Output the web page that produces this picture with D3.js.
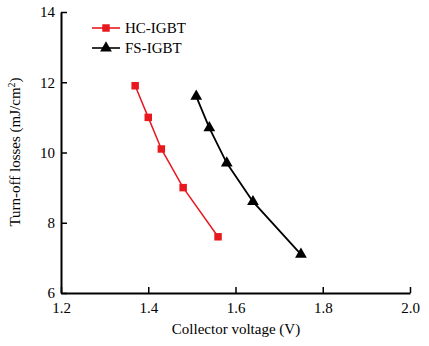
<!DOCTYPE html>
<html><head><meta charset="utf-8">
<script src="https://cdn.jsdelivr.net/npm/d3@7"></script>
<style>body{margin:0;background:#fff}svg{display:block}svg text{font-family:"Liberation Serif","Times New Roman",serif !important;fill:#000}</style>
</head><body><svg id="c" width="429" height="346" font-family="Liberation Serif"></svg>
<script>
const hcX = [1.37, 1.40, 1.43, 1.48, 1.56];
const hcY = [11.9, 11.0, 10.1, 9.0, 7.6];
const fsX = [1.51, 1.54, 1.58, 1.64, 1.75];
const fsY = [11.6, 10.7, 9.7, 8.6, 7.1];
const xTicks = [1.2, 1.4, 1.6, 1.8, 2.0];
const yTicks = [6, 8, 10, 12, 14];
const seriesNames = ["HC-IGBT", "FS-IGBT"];

const svg = d3.select("#c");
const x = d3.scaleLinear().domain([1.2, 2.0]).range([61, 410]);
const y = d3.scaleLinear().domain([6, 14]).range([293, 12]);
const FF = "Liberation Serif";

const xa = svg.append("g").attr("transform", "translate(0,293)")
  .call(d3.axisBottom(x).tickValues(xTicks).tickFormat(d3.format(".1f")).tickSizeInner(-6).tickSizeOuter(0).tickPadding(9));
const ya = svg.append("g").attr("transform", "translate(61,0)")
  .call(d3.axisLeft(y).tickValues(yTicks).tickFormat(d3.format("d")).tickSizeInner(-6).tickSizeOuter(0).tickPadding(6));
[xa, ya].forEach(a => {
  a.attr("font-family", FF).attr("font-size", 15);
  a.select(".domain").attr("stroke", "#000").attr("stroke-width", 2);
  a.selectAll(".tick line").attr("stroke", "#000").attr("stroke-width", 1.5);
});

const line = d3.line().x(d => x(d[0])).y(d => y(d[1]));
const hc = hcX.map((v, i) => [v, hcY[i]]);
const fs = fsX.map((v, i) => [v, fsY[i]]);
const red = "#e8191e";

svg.append("path").datum(hc).attr("d", line).attr("fill", "none").attr("stroke", red).attr("stroke-width", 1.5);
svg.append("path").datum(fs).attr("d", line).attr("fill", "none").attr("stroke", "#000").attr("stroke-width", 1.8);

const sq = d3.symbol().type(d3.symbolSquare).size(56);
const tri = d3.symbol().type(d3.symbolTriangle).size(60);
svg.selectAll(".hc").data(hc).enter().append("path").attr("d", sq)
  .attr("transform", d => `translate(${x(d[0])},${y(d[1])})`).attr("fill", red);
svg.selectAll(".fs").data(fs).enter().append("path").attr("d", tri)
  .attr("transform", d => `translate(${x(d[0])},${y(d[1])})`).attr("fill", "#000");

// legend
const lg = [[seriesNames[0], red, sq, 28], [seriesNames[1], "#000", tri, 48]];
lg.forEach(([name, col, sym, ly]) => {
  svg.append("line").attr("x1", 92).attr("x2", 120).attr("y1", ly).attr("y2", ly).attr("stroke", col).attr("stroke-width", 1.6);
  svg.append("path").attr("d", sym).attr("transform", `translate(106,${ly})`).attr("fill", col);
  svg.append("text").attr("x", 125).attr("y", ly + 5).attr("font-size", 15).attr("font-family", FF).text(name);
});

svg.append("text").attr("x", 236).attr("y", 334).attr("text-anchor", "middle").attr("font-size", 15).attr("font-family", FF).text("Collector voltage (V)");
const yl = svg.append("text").attr("transform", "translate(20,152) rotate(-90)").attr("text-anchor", "middle").attr("font-size", 15).attr("font-family", FF);
yl.append("tspan").text("Turn-off losses (mJ/cm");
yl.append("tspan").attr("font-size", 10).attr("dy", -5).text("2");
yl.append("tspan").attr("dy", 5).text(")");
</script></body></html>
